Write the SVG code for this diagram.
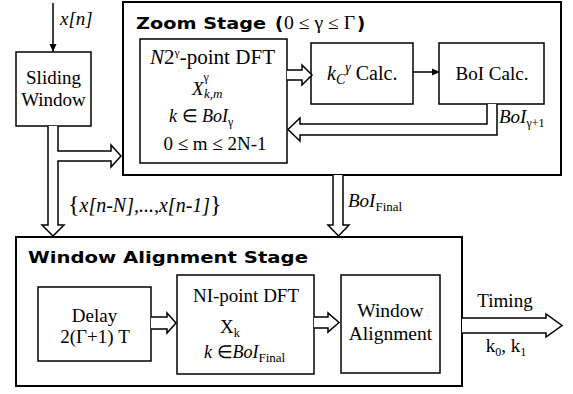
<svg xmlns="http://www.w3.org/2000/svg" width="573" height="394" viewBox="0 0 573 394">
<style>
.box{fill:#fff;stroke:#000;stroke-width:1.5}
.outer{fill:#fff;stroke:#000;stroke-width:2}
.ha{fill:#fff;stroke:#000;stroke-width:1.5;stroke-linejoin:miter}
.ln{fill:none;stroke:#000;stroke-width:1.5}
.t{font-family:"Liberation Serif","Times New Roman",serif;fill:#000}
.i{font-style:italic}
.ttl{font-family:"DejaVu Sans",Verdana,sans-serif;font-weight:bold;fill:#000}
</style>
<defs>
<marker id="ah" markerWidth="8" markerHeight="8" refX="7" refY="4" orient="auto" markerUnits="userSpaceOnUse">
<path d="M0,0.5 L8,4 L0,7.5 Z" fill="#000"/>
</marker>
</defs>
<rect width="573" height="394" fill="#fff"/>

<g id="zoom-stage">
<rect class="outer" x="123" y="2" width="438" height="173"/>
<text class="ttl" x="136" y="29" font-size="16" textLength="130" lengthAdjust="spacingAndGlyphs">Zoom Stage</text>
<text class="ttl" x="275" y="30" font-size="18">(</text>
<text class="t" x="284" y="29" font-size="18" textLength="71" lengthAdjust="spacingAndGlyphs">0 ≤ γ ≤ Γ</text>
<text class="ttl" x="357" y="30" font-size="18">)</text>
</g>

<g id="window-alignment-stage">
<rect class="outer" x="16" y="237" width="446" height="149"/>
<text class="ttl" x="28" y="263" font-size="16" textLength="280" lengthAdjust="spacingAndGlyphs">Window Alignment Stage</text>
</g>

<g id="sliding-window">
<rect class="box" x="16" y="52" width="75" height="74"/>
<text class="t" x="53.5" y="84" font-size="19" text-anchor="middle">Sliding</text>
<text class="t" x="53.5" y="106" font-size="19" text-anchor="middle">Window</text>
</g>

<g id="dft-zoom">
<rect class="box" x="140" y="39" width="147" height="124"/>
<text class="t" x="150" y="64" font-size="20" textLength="125" lengthAdjust="spacingAndGlyphs"><tspan class="i">N</tspan>2<tspan font-size="11" dy="-8">γ</tspan><tspan dy="8">-point DFT</tspan></text>
<text class="t i" x="192" y="95" font-size="19">X<tspan font-size="12" font-style="normal" dy="-14">γ</tspan><tspan font-size="13" x="204" y="98">k,m</tspan></text>
<text class="t i" x="169" y="122" font-size="18">k <tspan font-style="normal">∈</tspan> BoI<tspan font-size="12" dy="4" font-style="normal">γ</tspan></text>
<text class="t" x="215" y="150" font-size="19" text-anchor="middle">0 ≤ m ≤ 2N-1</text>
</g>

<g id="kc-calc">
<rect class="box" x="311" y="43" width="102" height="61"/>
<text class="t" x="327" y="80" font-size="20"><tspan font-style="italic">k</tspan><tspan font-style="italic" font-size="14" dy="4">C</tspan><tspan font-style="italic" font-size="14" dy="-12">γ</tspan><tspan dy="8"> Calc.</tspan></text>
</g>

<g id="boi-calc">
<rect class="box" x="439" y="43" width="105" height="61"/>
<text class="t" x="492" y="80" font-size="19" text-anchor="middle">BoI Calc.</text>
</g>

<g id="delay">
<rect class="box" x="38" y="287" width="113" height="74"/>
<text class="t" x="94.5" y="322" font-size="19" text-anchor="middle">Delay</text>
<text class="t" x="95" y="343" font-size="19" text-anchor="middle">2(Γ+1) T</text>
</g>

<g id="ni-dft">
<rect class="box" x="177" y="275" width="137" height="99"/>
<text class="t" x="246" y="302" font-size="19" text-anchor="middle">NI-point DFT</text>
<text class="t" x="220" y="333" font-size="19">X<tspan font-size="12" dy="4">k</tspan></text>
<text class="t i" x="204" y="358" font-size="18">k <tspan font-style="normal">∈</tspan>BoI<tspan font-size="13" dy="4" font-style="normal">Final</tspan></text>
</g>

<g id="window-alignment">
<rect class="box" x="341" y="275" width="99" height="98"/>
<text class="t" x="390.5" y="317" font-size="19.5" text-anchor="middle">Window</text>
<text class="t" x="390.5" y="340" font-size="19.5" text-anchor="middle">Alignment</text>
</g>

<g id="connectors">
<line class="ln" x1="53" y1="3" x2="53" y2="51" marker-end="url(#ah)"/>
<text class="t i" x="60" y="25" font-size="19">x[n]</text>

<path class="ha" d="M48,126 V225 H42 L53,236 L64,225 H58 V161 H111 V167 L121,156 L111,145 V151 H58 V126"/>
<text class="t i" x="68" y="212" font-size="20"><tspan font-style="normal" font-size="24">{</tspan>x[n-N],...,x[n-1]<tspan font-style="normal" font-size="24">}</tspan></text>

<path class="ha" d="M287,70 H302 V65 L312,75 L302,85 V80 H287"/>
<line class="ln" x1="413" y1="72" x2="439" y2="72" marker-end="url(#ah)"/>
<path class="ha" d="M487,104 V124 H300 V118 L288,129.5 L300,141 V135 H497 V104"/>
<text class="t i" x="499" y="123" font-size="19">BoI<tspan font-style="normal" font-size="12" dy="4">γ+1</tspan></text>

<path class="ha" d="M333,175 V225 H328 L338.5,236 L349,225 H343 V175"/>
<text class="t i" x="348" y="207" font-size="19">BoI<tspan font-style="normal" font-size="13" dy="4">Final</tspan></text>

<path class="ha" d="M151,317 H167 V313 L176,323 L167,333 V329 H151"/>
<path class="ha" d="M314,317 H328 V313 L339,322.5 L328,332 V328 H314"/>
<path class="ha" d="M462,318 H546 V314 L562,325.5 L546,337 V333 H462"/>
<text class="t" x="505" y="307" font-size="19" text-anchor="middle">Timing</text>
<text class="t" x="506" y="352" font-size="19" text-anchor="middle">k<tspan font-size="12" dy="4">0</tspan><tspan dy="-4">, k</tspan><tspan font-size="12" dy="4">1</tspan></text>
</g>
</svg>
